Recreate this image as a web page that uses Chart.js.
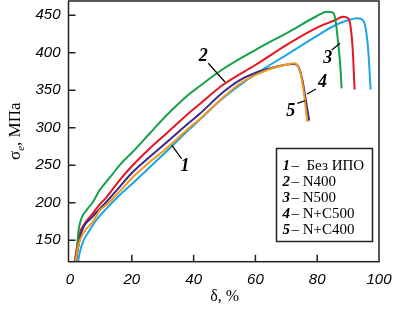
<!DOCTYPE html>
<html>
<head>
<meta charset="utf-8">
<script src="https://cdn.jsdelivr.net/npm/chart.js@4.4.1/dist/chart.umd.min.js"></script>
<style>
	body { margin: 0; background: #fff; }
</style>
</head>
<body>
<canvas id="curves" width="394" height="321"></canvas>
<script>
// elongation δ (%) and stress σe (MPa)
const strain1 = [2.6, 3.1, 4.2, 5.8, 8.5, 11.7, 16, 20.3, 25.7, 31.1, 38.6, 41.8, 49.4, 60.1, 70.9, 79.5, 85.9, 90.2, 92.9, 94.5, 95.6, 96.5, 97.3];
const stress1 = [121, 133, 148, 160, 177, 192, 210, 226, 247, 268, 298, 310, 339, 371.7, 399.3, 421.4, 437, 443.7, 446, 444.6, 434.7, 403.7, 351];

const strain2 = [1.5, 2.06, 3.1, 4.7, 7.4, 9.6, 11.7, 16, 20.3, 25.7, 31.1, 38.6, 41.8, 49.4, 60.1, 70.9, 79.5, 85.9, 88.3, 90, 90.8, 91.5, 92.1];
const stress2 = [121, 137, 159, 172, 186, 198, 207, 230, 250, 272, 292, 320, 331, 357, 384, 412.6, 432.6, 443.7, 448, 445.9, 434.7, 403.7, 351];

const strain3 = [1.3, 2.06, 2.3, 2.58, 3.68, 5.3, 7.4, 9.6, 11.7, 13.9, 16, 20.3, 25.7, 31.1, 38.6, 41.8, 49.4, 60.1, 70.9, 79.5, 83.2, 85.1, 85.9, 86.8, 87.5, 87.9];
const stress3 = [121, 130, 140, 157, 179, 190, 201, 217, 228, 239, 250, 268, 292, 316, 345, 355, 378, 404, 428, 448, 454.7, 453.4, 443.7, 412.6, 381.4, 352.6];

const strain4 = [1.8, 2.6, 4.2, 7.4, 9.6, 11.7, 16, 20.3, 25.7, 31.1, 38.6, 41.8, 49.4, 54.7, 60.1, 65.5, 70.9, 72.5, 73.5, 74.6, 75.7, 76.8];
const stress4 = [121, 141.5, 159, 175, 190, 197, 215, 234, 254, 272, 300, 311, 340, 358, 370.4, 379.3, 385, 386, 383.7, 372.6, 346, 308];

const strain5 = [1.9, 2.4, 3.7, 7.4, 9.6, 11.7, 16, 20.3, 25.7, 31.1, 38.6, 41.8, 49.4, 54.7, 60.1, 65.5, 70.9, 72.5, 73.9, 75.2, 76.3, 77.4];
const stress5 = [121, 135, 161, 182, 192, 201, 221, 241, 261, 280, 307, 318, 347, 363, 373.4, 380, 384.6, 385, 381.4, 363.7, 337, 309.5];

const seriesNames = ["Без ИПО", "N400", "N500", "N+C500", "N+C400"];
const seriesColors = ["#1ba6e4", "#e5161e", "#16a04a", "#f5961d", "#3b2a8c"];
const drawOrder = [4, 3, 2, 0, 1];

const xTicks = [0, 20, 40, 60, 80, 100];
const yTicks = [150, 200, 250, 300, 350, 400, 450];

// curve number labels: [text, δ, σ] and leader lines [δ1, σ1, δ2, σ2]
const curveLabels = [["1", 37.2, 249], ["2", 43.1, 395], ["3", 83.4, 392], ["4", 81.7, 360], ["5", 71.4, 322]];
const leaders = [
	[32.9, 277, 36.1, 259],
	[44.75, 386, 50.15, 361],
	[84.7, 403.7, 87.4, 412.6],
	[79.6, 351.7, 76.7, 345],
	[73.55, 332.6, 76.05, 336]
];

const strains = [strain1, strain2, strain3, strain4, strain5];
const stresses = [stress1, stress2, stress3, stress4, stress5];

const datasets = seriesNames.map((name, i) => ({
	label: name,
	data: strains[i].map((s, k) => ({ x: s, y: stresses[i][k] })),
	borderColor: seriesColors[i],
	borderWidth: 2,
	pointRadius: 0,
	cubicInterpolationMode: "monotone",
	order: drawOrder[i],
}));

const ink = "#222";

const decor = {
	id: "decor",
	afterDatasetsDraw(chart) {
		const ctx = chart.ctx;
		const a = chart.chartArea;
		const sx = chart.scales.x;
		const sy = chart.scales.y;
		ctx.save();
		ctx.strokeStyle = ink;
		ctx.lineWidth = 1.5;
		ctx.strokeRect(a.left, a.top, a.right - a.left, a.bottom - a.top);
		ctx.beginPath();
		xTicks.forEach(v => {
			const px = sx.getPixelForValue(v);
			if (v > xTicks[0] && v < xTicks[xTicks.length - 1]) {
				ctx.moveTo(px, a.bottom);
				ctx.lineTo(px, a.bottom - 7);
			}
		});
		yTicks.forEach(v => {
			const py = sy.getPixelForValue(v);
			ctx.moveTo(a.left, py);
			ctx.lineTo(a.left + 7, py);
		});
		ctx.stroke();

		// leaders and numbers
		ctx.lineWidth = 1.2;
		ctx.strokeStyle = "#000";
		ctx.beginPath();
		leaders.forEach(l => {
			ctx.moveTo(sx.getPixelForValue(l[0]), sy.getPixelForValue(l[1]));
			ctx.lineTo(sx.getPixelForValue(l[2]), sy.getPixelForValue(l[3]));
		});
		ctx.stroke();
		ctx.fillStyle = "#000";
		ctx.font = "italic bold 18px 'Liberation Serif'";
		ctx.textAlign = "center";
		ctx.textBaseline = "middle";
		curveLabels.forEach(c => {
			ctx.fillText(c[0], sx.getPixelForValue(c[1]), sy.getPixelForValue(c[2]));
		});

		// legend box
		const bx = 276.5, by = 148.5, bw = 96, bh = 93;
		ctx.fillStyle = "#fff";
		ctx.fillRect(bx, by, bw, bh);
		ctx.strokeStyle = ink;
		ctx.lineWidth = 1.5;
		ctx.strokeRect(bx, by, bw, bh);
		ctx.textAlign = "left";
		ctx.textBaseline = "alphabetic";
		ctx.fillStyle = "#000";
		seriesNames.forEach((name, i) => {
			const ty = by + 21 + i * 16;
			ctx.font = "italic bold 15px 'Liberation Serif'";
			ctx.fillText(String(i + 1), bx + 6, ty);
			ctx.font = "15px 'Liberation Serif'";
			ctx.fillText(i === 0 ? "–  " + name : "– " + name, bx + 15, ty);
		});

		// axis titles
		ctx.font = "16px 'Liberation Serif'";
		ctx.textAlign = "center";
		ctx.fillText("δ, %", (a.left + a.right) / 2 + 1, 301);

		ctx.translate(20, 160);
		ctx.rotate(-Math.PI / 2);
		ctx.textAlign = "left";
		ctx.font = "17px 'Liberation Serif'";
		ctx.fillText("σ", 0, 0);
		let w = ctx.measureText("σ").width;
		ctx.font = "italic 11px 'Liberation Serif'";
		ctx.fillText("e", w, 4);
		w += ctx.measureText("e").width;
		ctx.font = "17px 'Liberation Serif'";
		ctx.fillText(", МПа", w, 0);
		ctx.restore();
	}
};

new Chart(document.getElementById("curves"), {
	type: "line",
	data: { datasets: datasets },
	options: {
		responsive: false,
		animation: false,
		layout: { padding: { top: 1, right: 15, left: 0, bottom: 0 } },
		plugins: { legend: { display: false }, tooltip: { enabled: false } },
		scales: {
			x: {
				type: "linear",
				min: -0.5,
				max: 100,
				afterBuildTicks: s => { s.ticks = xTicks.map(v => ({ value: v })); },
				afterFit: s => { s.height = 59.3; s.paddingLeft = 0; s.paddingRight = 0; },
				grid: { display: false, drawTicks: false },
				border: { display: false },
				ticks: {
					padding: 9,
					color: "#000",
					maxRotation: 0,
					font: { family: "'Liberation Sans'", size: 15, style: "italic" },
				},
			},
			y: {
				type: "linear",
				min: 121.5,
				max: 469,
				afterBuildTicks: s => { s.ticks = yTicks.map(v => ({ value: v })); },
				afterFit: s => { s.width = 68.5; s.paddingTop = 0; s.paddingBottom = 0; },
				grid: { display: false, drawTicks: false },
				border: { display: false },
				ticks: {
					padding: 8,
					color: "#000",
					font: { family: "'Liberation Sans'", size: 15, style: "italic" },
				},
			},
		},
	},
	plugins: [decor],
});
</script>
</body>
</html>
